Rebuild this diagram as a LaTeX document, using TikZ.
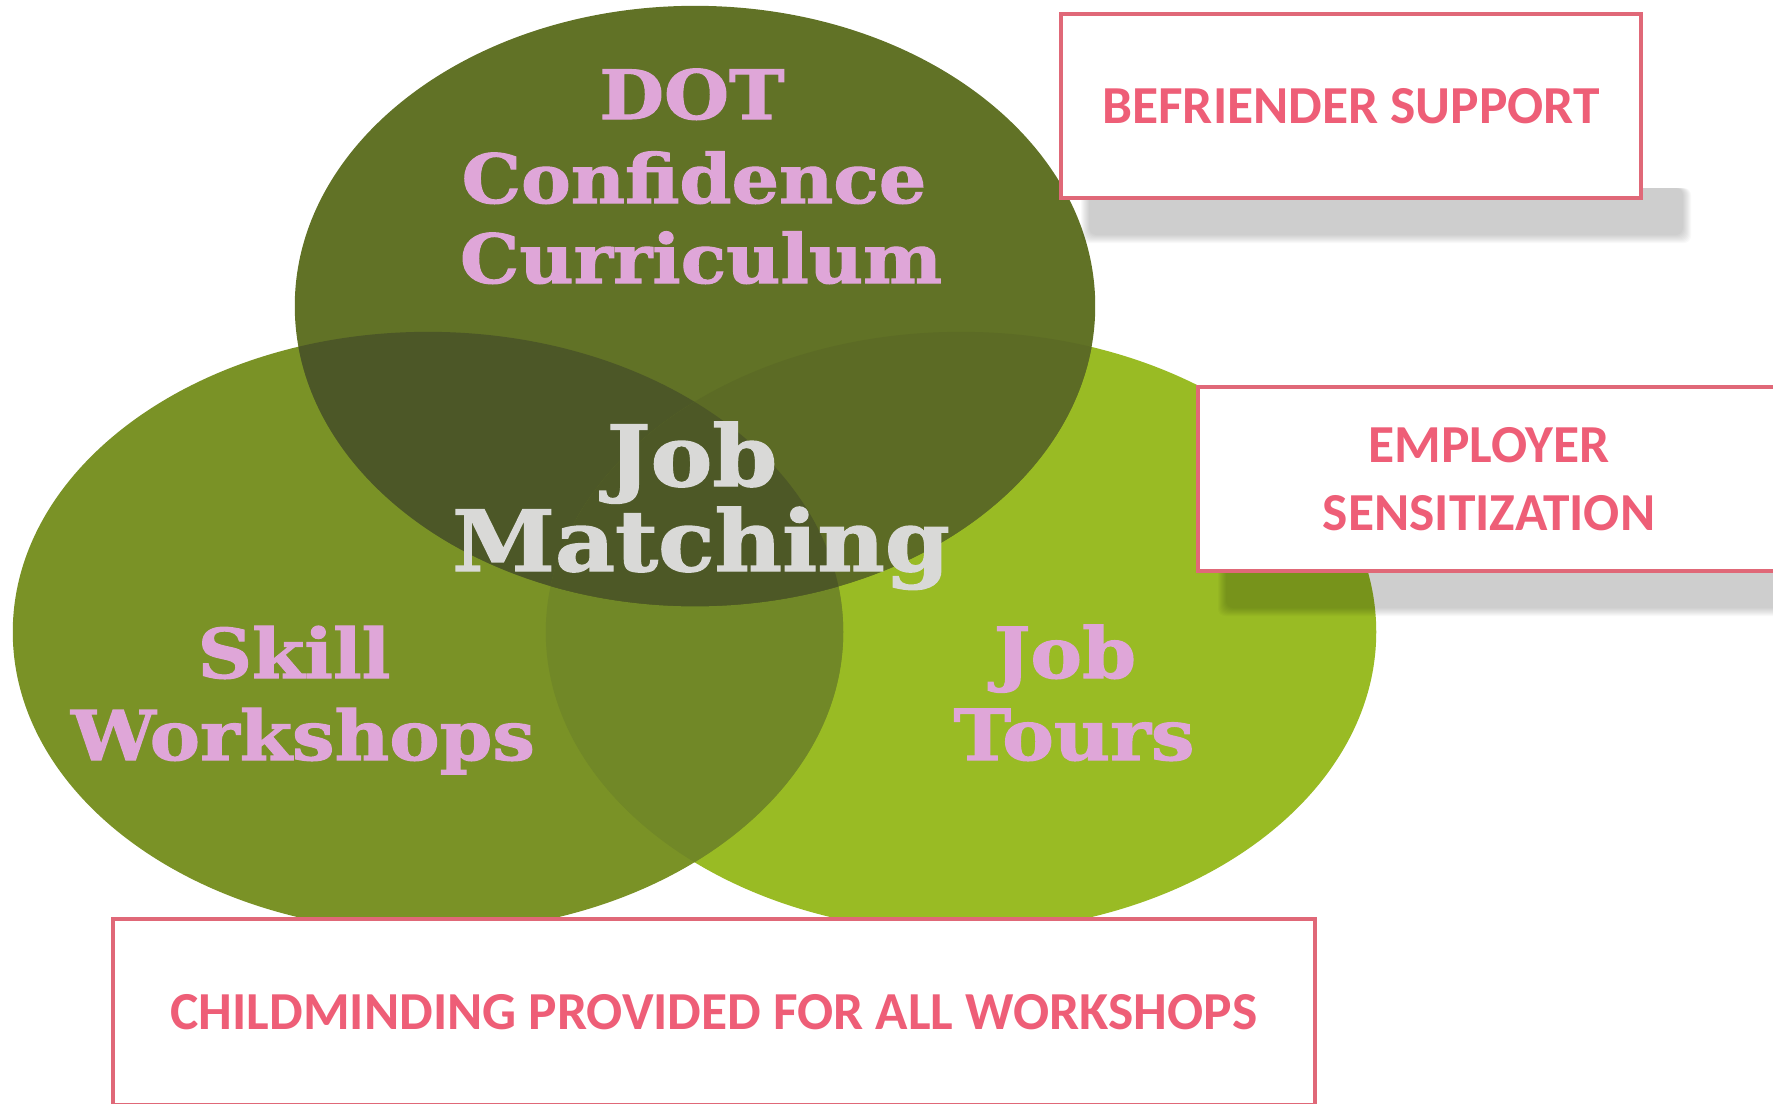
\documentclass[tikz,border=0pt]{standalone}
\usepackage{fontspec}
\newfontfamily\vennfont[FakeStretch=1.1,BoldFeatures={FakeBold=1.6}]{DejaVu Serif}
\newfontfamily\tagfont{Carlito}
\definecolor{topgreen}{HTML}{617226}
\definecolor{leftgreen}{HTML}{7A9226}
\definecolor{rightgreen}{HTML}{99BB24}
\definecolor{lrgreen}{HTML}{718827}
\definecolor{tlgreen}{HTML}{4C5727}
\definecolor{trgreen}{HTML}{5C6B25}
\definecolor{allgreen}{HTML}{4D5826}
\definecolor{vennpink}{HTML}{DFA6D8}
\definecolor{venngrey}{HTML}{D9D9D7}
\definecolor{tagedge}{HTML}{E06878}
\definecolor{tagtext}{HTML}{EE5E77}
\begin{document}
\begin{tikzpicture}[x=0.01cm,y=-0.01cm,
  tagbox/.style={draw=tagedge,line width=1.2pt,fill=white,text=tagtext,align=center,
    inner sep=0pt,font=\tagfont\bfseries\fontsize{15.2}{19.5}\selectfont},
  pinklabel/.style={anchor=base,text=vennpink,font=\vennfont\bfseries\fontsize{#1}{#1}\selectfont},
  greylabel/.style={anchor=base,text=venngrey,font=\vennfont\bfseries\fontsize{24}{24}\selectfont},
  venn/.style={x radius=4.15cm,y radius=3cm}]
  \useasboundingbox (0,0) rectangle (1773,1103);
  \coordinate (T) at (695,306);
  \coordinate (L) at (428,632);
  \coordinate (R) at (961,632);

  \fill[rightgreen] (R) ellipse [venn];
  \fill[leftgreen] (L) ellipse [venn];
  \begin{scope}
    \clip (R) ellipse [venn];
    \fill[lrgreen] (L) ellipse [venn];
  \end{scope}
  \fill[topgreen] (T) ellipse [x radius=4cm,y radius=3cm];
  \begin{scope}
    \clip (T) ellipse [x radius=4cm,y radius=3cm];
    \fill[tlgreen] (L) ellipse [venn];
    \fill[trgreen] (R) ellipse [venn];
    \clip (L) ellipse [venn];
    \fill[allgreen] (R) ellipse [venn];
  \end{scope}

  % soft shadows under the tags
  \foreach \s in {0,...,8} {
    \fill[black,opacity=0.025,rounded corners=2pt]
      (1081+\s,188) rectangle (1691-\s,243-\s);
    \fill[black,opacity=0.025,rounded corners=2pt]
      (1218+\s,561) rectangle (1800,616-\s);
  }

  \node[pinklabel=19.3] (dot) at (692,119) {DOT};
  \node[pinklabel=19.3] (conf) at (694,203) {Confidence};
  \node[pinklabel=19.3] (curr) at (701,283) {Curriculum};
  \node[greylabel] (job) at (692,486) {Job};
  \node[greylabel] (match) at (701,571) {Matching};
  \node[pinklabel=19.5] (skill) at (294,678) {Skill};
  \node[pinklabel=19.5] (work) at (303,760) {Workshops};
  \node[pinklabel=20] (jobr) at (1065,678) {Job};
  \node[pinklabel=20] (tours) at (1074,760) {Tours};

  \node[tagbox,minimum width=5.8cm,minimum height=1.84cm] (befr) at (1351,106)
    {BEFRIENDER SUPPORT};
  \node[tagbox,minimum width=5.81cm,minimum height=1.84cm] (empl) at (1489,479)
    {EMPLOYER\\SENSITIZATION};
  \node[tagbox,minimum width=12.01cm,minimum height=1.86cm] (child) at (714,1012)
    {CHILDMINDING PROVIDED FOR ALL WORKSHOPS};
\end{tikzpicture}
\end{document}
